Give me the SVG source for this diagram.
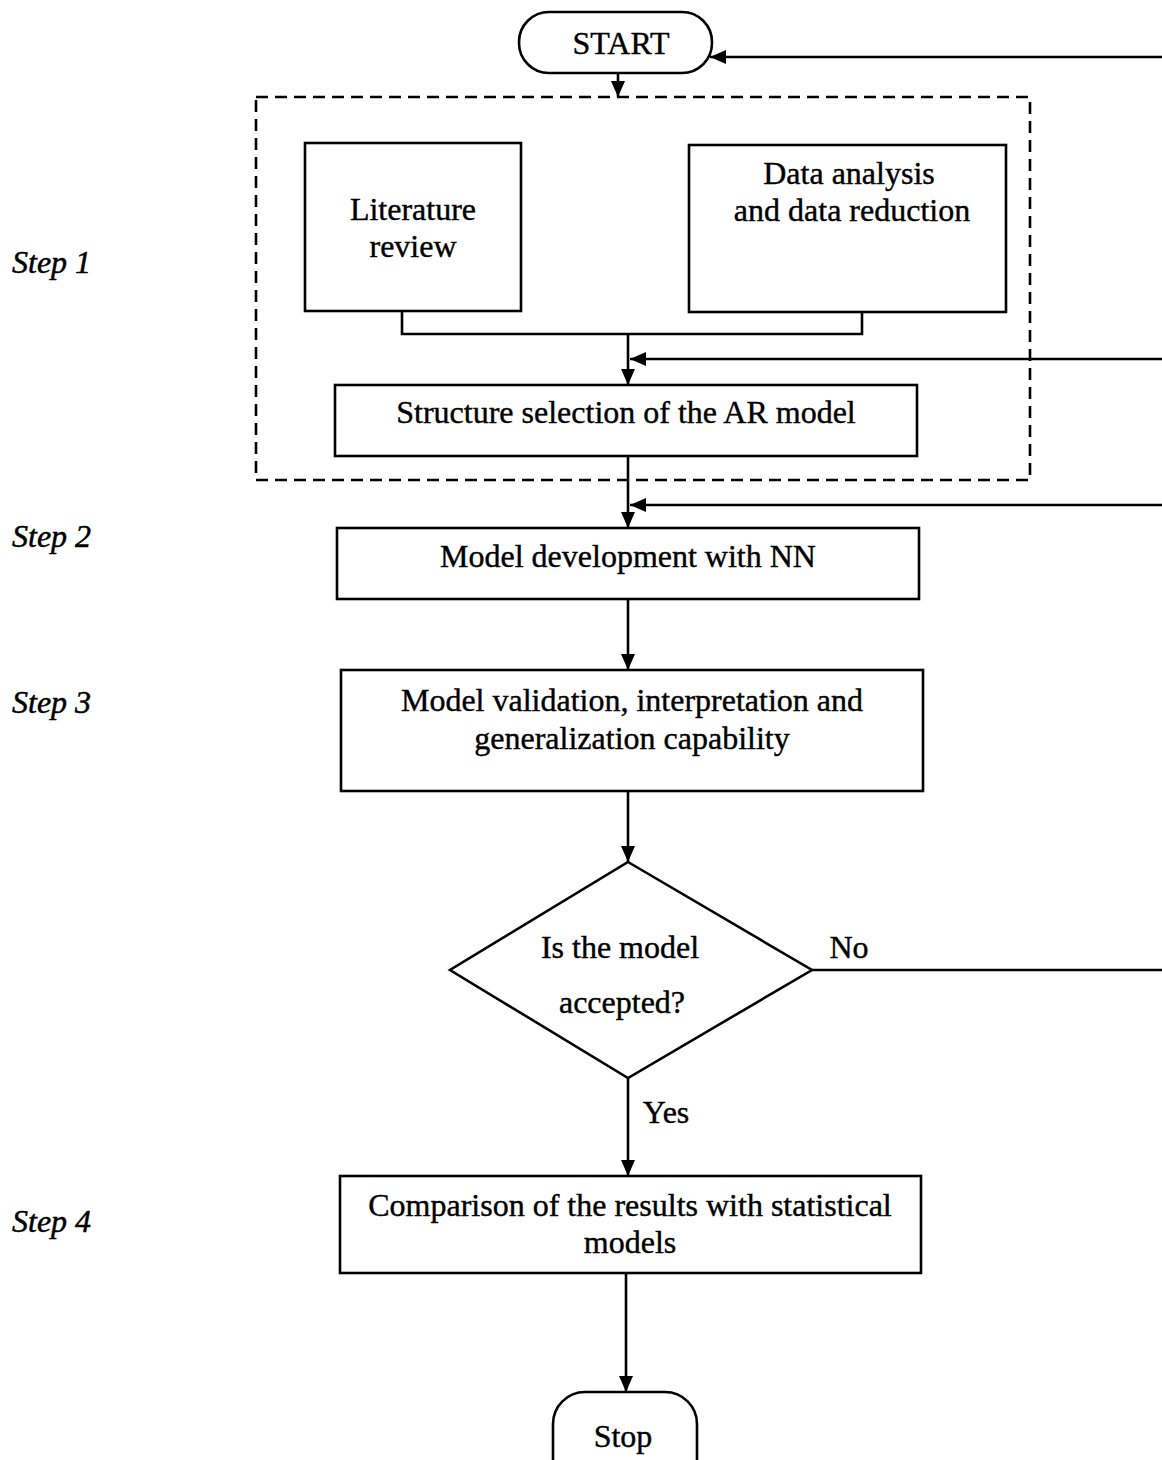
<svg xmlns="http://www.w3.org/2000/svg" width="1162" height="1460" viewBox="0 0 1162 1460">
  <style>
    .box { fill: #fff; stroke: #000; stroke-width: 2.6; }
    .dash { fill: none; stroke: #000; stroke-width: 2.6; stroke-dasharray: 12 7; }
    .ln { fill: none; stroke: #000; stroke-width: 2.6; }
    .t { font-family: "Liberation Serif", "Times New Roman", serif; font-size: 32px; fill: #000; stroke: #000; stroke-width: 0.4; text-anchor: middle; }
    .step { font-family: "Liberation Serif", "Times New Roman", serif; font-size: 32px; font-style: italic; fill: #000; stroke: #000; stroke-width: 0.5; }
  </style>
  <defs>
    <marker id="arr" viewBox="0 0 16 14" refX="16" refY="7" markerWidth="16" markerHeight="14" markerUnits="userSpaceOnUse" orient="auto">
      <path d="M0,0 L16,7 L0,14 Z" fill="#000"/>
    </marker>
  </defs>

  <rect width="1162" height="1460" fill="#fff"/>

  <!-- step labels -->
  <g id="step-labels">
    <text class="step" x="12" y="273">Step 1</text>
    <text class="step" x="12" y="547">Step 2</text>
    <text class="step" x="12" y="713">Step 3</text>
    <text class="step" x="12" y="1232">Step 4</text>
  </g>

  <!-- step 1 grouping -->
  <g id="step1-frame">
    <rect class="dash" x="256" y="97" width="774" height="383"/>
  </g>

  <!-- connectors -->
  <g id="connectors">
    <line class="ln" x1="618" y1="73" x2="618" y2="97" marker-end="url(#arr)"/>
    <polyline class="ln" points="402,311 402,334 862,334 862,312"/>
    <line class="ln" x1="628" y1="334" x2="628" y2="385" marker-end="url(#arr)"/>
    <line class="ln" x1="628" y1="456" x2="628" y2="528" marker-end="url(#arr)"/>
    <line class="ln" x1="628" y1="599" x2="628" y2="670" marker-end="url(#arr)"/>
    <line class="ln" x1="628" y1="791" x2="628" y2="862" marker-end="url(#arr)"/>
    <line class="ln" x1="628" y1="1078" x2="628" y2="1176" marker-end="url(#arr)"/>
    <line class="ln" x1="626" y1="1273" x2="626" y2="1392" marker-end="url(#arr)"/>
    <!-- feedback lines entering from the right -->
    <line class="ln" x1="1162" y1="57" x2="710" y2="57" marker-end="url(#arr)"/>
    <line class="ln" x1="1162" y1="359" x2="630" y2="359" marker-end="url(#arr)"/>
    <line class="ln" x1="1162" y1="505" x2="630" y2="505" marker-end="url(#arr)"/>
    <line class="ln" x1="812" y1="970" x2="1162" y2="970"/>
    <text class="t" x="849" y="958">No</text>
    <text class="t" x="666" y="1123">Yes</text>
  </g>

  <g id="start">
    <rect class="box" x="519" y="12" width="193" height="61" rx="30"/>
    <text class="t" x="621" y="54">START</text>
  </g>

  <g id="literature">
    <rect class="box" x="305" y="143" width="216" height="168"/>
    <text class="t" x="413" y="220">Literature</text>
    <text class="t" x="413" y="257">review</text>
  </g>

  <g id="data-analysis">
    <rect class="box" x="689" y="145" width="317" height="167"/>
    <text class="t" x="849" y="184">Data analysis</text>
    <text class="t" x="852" y="221">and data reduction</text>
  </g>

  <g id="structure">
    <rect class="box" x="335" y="385" width="582" height="71"/>
    <text class="t" x="626" y="423">Structure selection of the AR model</text>
  </g>

  <g id="development">
    <rect class="box" x="337" y="528" width="582" height="71"/>
    <text class="t" x="628" y="567">Model development with NN</text>
  </g>

  <g id="validation">
    <rect class="box" x="341" y="670" width="582" height="121"/>
    <text class="t" x="632" y="711">Model validation, interpretation and</text>
    <text class="t" x="632" y="749">generalization capability</text>
  </g>

  <g id="decision">
    <polygon class="box" points="628,862 812,970 628,1078 450,970"/>
    <text class="t" x="620" y="958">Is the model</text>
    <text class="t" x="622" y="1013">accepted?</text>
  </g>

  <g id="comparison">
    <rect class="box" x="340" y="1176" width="581" height="97"/>
    <text class="t" x="630" y="1216">Comparison of the results with statistical</text>
    <text class="t" x="630" y="1253">models</text>
  </g>

  <g id="stop">
    <rect class="box" x="553" y="1392" width="144" height="100" rx="32"/>
    <text class="t" x="623" y="1447">Stop</text>
  </g>
</svg>
